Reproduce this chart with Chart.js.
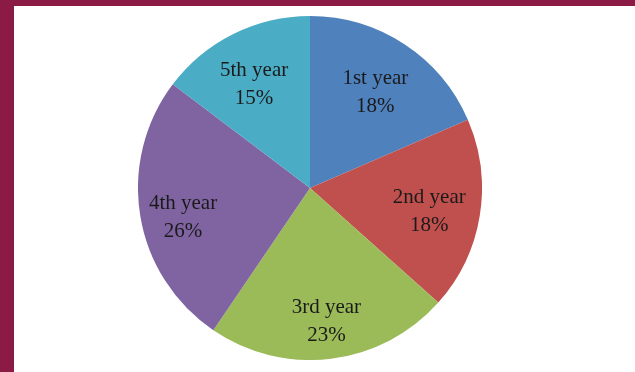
<!DOCTYPE html>
<html>
<head>
<meta charset="utf-8">
<script src="https://cdn.jsdelivr.net/npm/chart.js@4"></script>
<style>
  html, body { margin: 0; padding: 0; }
  body { width: 635px; height: 372px; background: #8b1a45; position: relative; overflow: hidden; }
  .panel { position: absolute; left: 14px; top: 6px; right: 0; bottom: 0; background: #ffffff; }
  .pie-box { position: absolute; left: 138px; top: 16px; width: 344px; height: 344px; }
</style>
</head>
<body>
<div class="panel"></div>
<div class="pie-box"><canvas id="pieChart"></canvas></div>
<script>
const categories = ['1st year', '2nd year', '3rd year', '4th year', '5th year'];
const shares = [18.5, 18.1, 22.9, 25.8, 14.7];
const shareLabels = ['18%', '18%', '23%', '26%', '15%'];
const sliceColors = ['#4f81bd', '#c0504d', '#9bbb59', '#8064a2', '#4bacc6'];

// simple label drawer, two lines per slice (name + percent)
const sliceLabels = {
    id: 'sliceLabels',
    afterDatasetsDraw(chart, args, opts) {
        const ctx = chart.ctx;
        const meta = chart.getDatasetMeta(0);
        ctx.save();
        ctx.font = opts.font;
        ctx.fillStyle = opts.color;
        ctx.textAlign = 'center';
        ctx.textBaseline = 'middle';
        meta.data.forEach(function (arc, i) {
            const mid = (arc.startAngle + arc.endAngle) / 2;
            const r = arc.outerRadius * opts.radius[i];
            const x = arc.x + Math.cos(mid) * r + opts.nudge[i][0];
            const y = arc.y + Math.sin(mid) * r + opts.nudge[i][1];
            ctx.fillText(categories[i], x, y - opts.lineGap / 2);
            ctx.fillText(shareLabels[i], x, y + opts.lineGap / 2);
        });
        ctx.restore();
    }
};

new Chart(document.getElementById('pieChart'), {
    type: 'pie',
    data: {
        labels: categories,
        datasets: [{
            data: shares,
            backgroundColor: sliceColors,
            borderWidth: 0
        }]
    },
    options: {
        responsive: true,
        maintainAspectRatio: false,
        animation: false,
        plugins: {
            legend: { display: false },
            tooltip: { enabled: false },
            sliceLabels: {
                font: '21px "Liberation Serif", "Times New Roman", serif',
                color: '#1a1a1a',
                lineGap: 28,
                radius: [0.66, 0.72, 0.78, 0.76, 0.69],
                // small hand nudges so labels sit where Excel's best-fit put them
                nudge: [[3, -1], [-3, 4], [0, 0], [2, 8], [-3, 3]]
            }
        }
    },
    plugins: [sliceLabels]
});
</script>
</body>
</html>
